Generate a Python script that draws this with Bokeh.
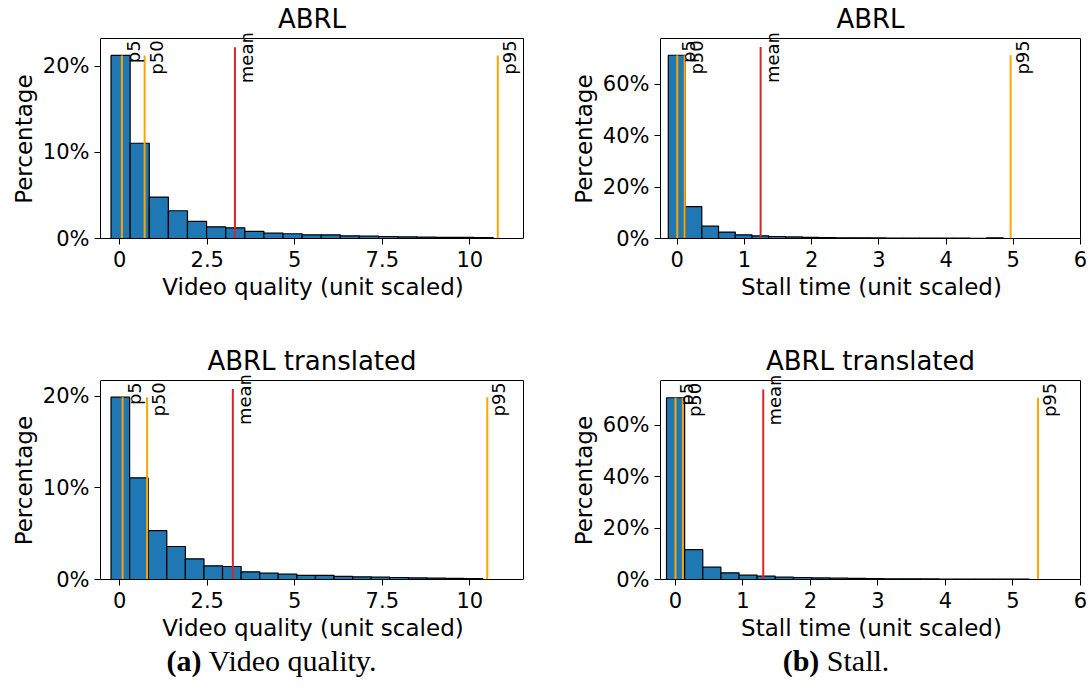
import math
import numpy as np
from bokeh.plotting import figure
from bokeh.models import Range1d, FixedTicker, PrintfTickFormatter, Label, Div, Spacer, ColumnDataSource, Title
from bokeh.layouts import column, row
from bokeh.embed import file_html
from bokeh.resources import INLINE

# ---------------- data ----------------
vq_abrl_heights = [21.24, 11.05, 4.81, 3.22, 1.98, 1.36, 1.24, 0.82, 0.62, 0.55,
                   0.43, 0.43, 0.31, 0.27, 0.23, 0.20, 0.16, 0.14, 0.12, 0.10]
vq_abrl_bin_range = (-0.25, 10.67)
vq_abrl_stats = {"p5": 0.06, "p50": 0.71, "mean": 3.29, "p95": 10.8}

vq_trans_heights = [19.88, 11.09, 5.34, 3.60, 2.25, 1.49, 1.42, 0.84, 0.69, 0.58,
                    0.44, 0.44, 0.33, 0.29, 0.25, 0.22, 0.18, 0.15, 0.13, 0.10]
vq_trans_bin_range = (-0.25, 10.37)
vq_trans_stats = {"p5": 0.08, "p50": 0.78, "mean": 3.23, "p95": 10.5}

stall_abrl_heights = [71.2, 12.35, 4.8, 2.5, 1.44, 1.05, 0.78, 0.6, 0.45, 0.35,
                      0.3, 0.25, 0.22, 0.2, 0.18, 0.15, 0.13, 0.12, 0.1, 0.3]
stall_abrl_bin_range = (-0.134, 4.85)
stall_abrl_stats = {"p5": 0.0, "p50": 0.11, "mean": 1.24, "p95": 4.96}

stall_trans_heights = [70.6, 11.6, 4.77, 2.58, 1.68, 1.29, 0.9, 0.77, 0.6, 0.5,
                       0.4, 0.35, 0.3, 0.25, 0.22, 0.2, 0.18, 0.15, 0.13, 0.2]
stall_trans_bin_range = (-0.133, 5.24)
stall_trans_stats = {"p5": 0.0, "p50": 0.11, "mean": 1.30, "p95": 5.37}

vq_xticks = [0, 2.5, 5, 7.5, 10]
vq_xtick_labels = ["0", "2.5", "5", "7.5", "10"]
stall_xticks = [0, 1, 2, 3, 4, 5, 6]
stall_xtick_labels = ["0", "1", "2", "3", "4", "5", "6"]
vq_yticks = [0, 10, 20]
stall_yticks = [0, 20, 40, 60]

titles = ["ABRL", "ABRL", "ABRL translated", "ABRL translated"]
xlabels = ["Video quality (unit scaled)", "Stall time (unit scaled)"]
ylabel = "Percentage"
captions = [("(a)", " Video quality."), ("(b)", " Stall.")]

FONT = "DejaVu Sans"
BAR = "#1f77b4"
ORANGE = "#ffa500"
RED = "#d62728"
LABEL_PX = 23
YLABEL_W = 5.683 * LABEL_PX  # approximate rendered length of "Percentage"


def panel(title, heights, bin_range, stats, xr, yr, xticks, xlabels_, yticks, xlabel,
          width, height, box_left, box_w, box_top, box_h):
    # frame is slightly larger than the visible axes box so that texts above it are not clipped
    frame_w = box_w + 2
    frame_h = box_top + box_h
    x_end = xr[1] + 2 * (xr[1] - xr[0]) / box_w
    ppu_y = box_h / (yr[1] - yr[0])
    y_end = yr[1] + box_top / ppu_y
    p = figure(width=width, height=height, output_backend="svg", toolbar_location=None,
               title=None,
               x_range=Range1d(xr[0], x_end), y_range=Range1d(yr[0], y_end),
               min_border_left=box_left, min_border_right=width - box_left - frame_w,
               min_border_top=0, min_border_bottom=height - frame_h)
    p.background_fill_color = "white"
    p.border_fill_color = "white"
    p.grid.visible = False
    p.outline_line_color = None

    edges = np.linspace(bin_range[0], bin_range[1], len(heights) + 1)
    src = ColumnDataSource(dict(left=edges[:-1], right=edges[1:],
                                top=heights, bottom=[0] * len(heights)))
    p.quad(left="left", right="right", top="top", bottom="bottom", source=src,
           fill_color=BAR, line_color="black", line_width=1.2)

    hmax = max(heights)
    for name, val in stats.items():
        top = hmax * 1.045 if name == "mean" else hmax
        col = RED if name == "mean" else ORANGE
        p.segment(x0=[val], y0=[0], x1=[val], y1=[top], line_color=col, line_width=2)
        p.add_layout(Label(x=val, y=top, x_offset=1, y_offset=15, text=name,
                           angle=math.pi / 2, text_align="right", text_baseline="top",
                           text_font=FONT, text_font_size="18px", text_color="black"))

    # top and right edges of the axes box
    p.segment(x0=[xr[0], xr[1]], y0=[yr[1], yr[0]], x1=[xr[1], xr[1]], y1=[yr[1], yr[1]],
              line_color="black", line_width=1)

    p.add_layout(Label(x=(xr[0] + xr[1]) / 2, y=yr[1] + 10 / ppu_y, y_offset=10, text=title,
                       text_align="center", text_baseline="alphabetic",
                       text_font=FONT, text_font_size="26px", text_color="black"))

    for ax in (p.xaxis[0], p.yaxis[0]):
        ax.axis_line_color = "black"
        ax.major_tick_line_color = "black"
        ax.major_tick_out = 6
        ax.major_tick_in = 0
        ax.minor_tick_line_color = None
        ax.major_label_text_font = FONT
        ax.major_label_text_font_size = "21px"
        ax.major_label_text_color = "black"
        ax.axis_label_text_font = FONT
        ax.axis_label_text_font_size = f"{LABEL_PX}px"
        ax.axis_label_text_font_style = "normal"
        ax.axis_label_text_color = "black"
    p.xaxis.bounds = (xr[0], xr[1])
    p.yaxis.bounds = (yr[0], yr[1])
    p.xaxis.ticker = FixedTicker(ticks=xticks)
    p.xaxis.major_label_overrides = {float(t): l for t, l in zip(xticks, xlabels_)}
    p.xaxis.major_label_standoff = 6
    p.xaxis.axis_label = xlabel
    p.xaxis.axis_label_standoff = 4
    p.yaxis.ticker = FixedTicker(ticks=yticks)
    p.yaxis.formatter = PrintfTickFormatter(format="%d%%")
    p.yaxis.major_label_standoff = 5

    # y label centred on the visible box (not on the enlarged frame)
    p.add_layout(Title(text=ylabel, align="left", offset=box_h / 2 - YLABEL_W / 2,
                       standoff=6, text_font=FONT, text_font_size=f"{LABEL_PX}px",
                       text_font_style="normal", text_color="black"), "left")
    return p


f1 = panel(titles[0], vq_abrl_heights, vq_abrl_bin_range, vq_abrl_stats,
           (-0.551, 11.534), (0, 23.2), vq_xticks, vq_xtick_labels, vq_yticks, xlabels[0],
           540, 330, 100, 423, 38, 200)
f2 = panel(titles[1], stall_abrl_heights, stall_abrl_bin_range, stall_abrl_stats,
           (-0.25, 6.0), (0, 77.7), stall_xticks, stall_xtick_labels, stall_yticks, xlabels[1],
           549, 330, 120, 420, 38, 200)
f3 = panel(titles[2], vq_trans_heights, vq_trans_bin_range, vq_trans_stats,
           (-0.551, 11.534), (0, 21.7), vq_xticks, vq_xtick_labels, vq_yticks, xlabels[0],
           540, 320, 100, 423, 50, 199)
f4 = panel(titles[3], stall_trans_heights, stall_trans_bin_range, stall_trans_stats,
           (-0.222, 6.0), (0, 77.3), stall_xticks, stall_xtick_labels, stall_yticks, xlabels[1],
           549, 320, 120, 420, 50, 199)

cap_style = {"font-family": "'Liberation Serif', 'Times New Roman', serif",
             "font-size": "30px", "text-align": "center", "line-height": "12px",
             "color": "black", "width": "100%"}
d1 = Div(text=f"<b>{captions[0][0]}</b>{captions[0][1]}", width=533, height=39, styles=cap_style)
d2 = Div(text=f"<b>{captions[1][0]}</b>{captions[1][1]}", width=536, height=39, styles=cap_style)

layout = column(row(f1, f2), row(f3, f4), row(d1, Spacer(width=20, height=39), d2))

open("out.html", "w").write(file_html(layout, INLINE))
